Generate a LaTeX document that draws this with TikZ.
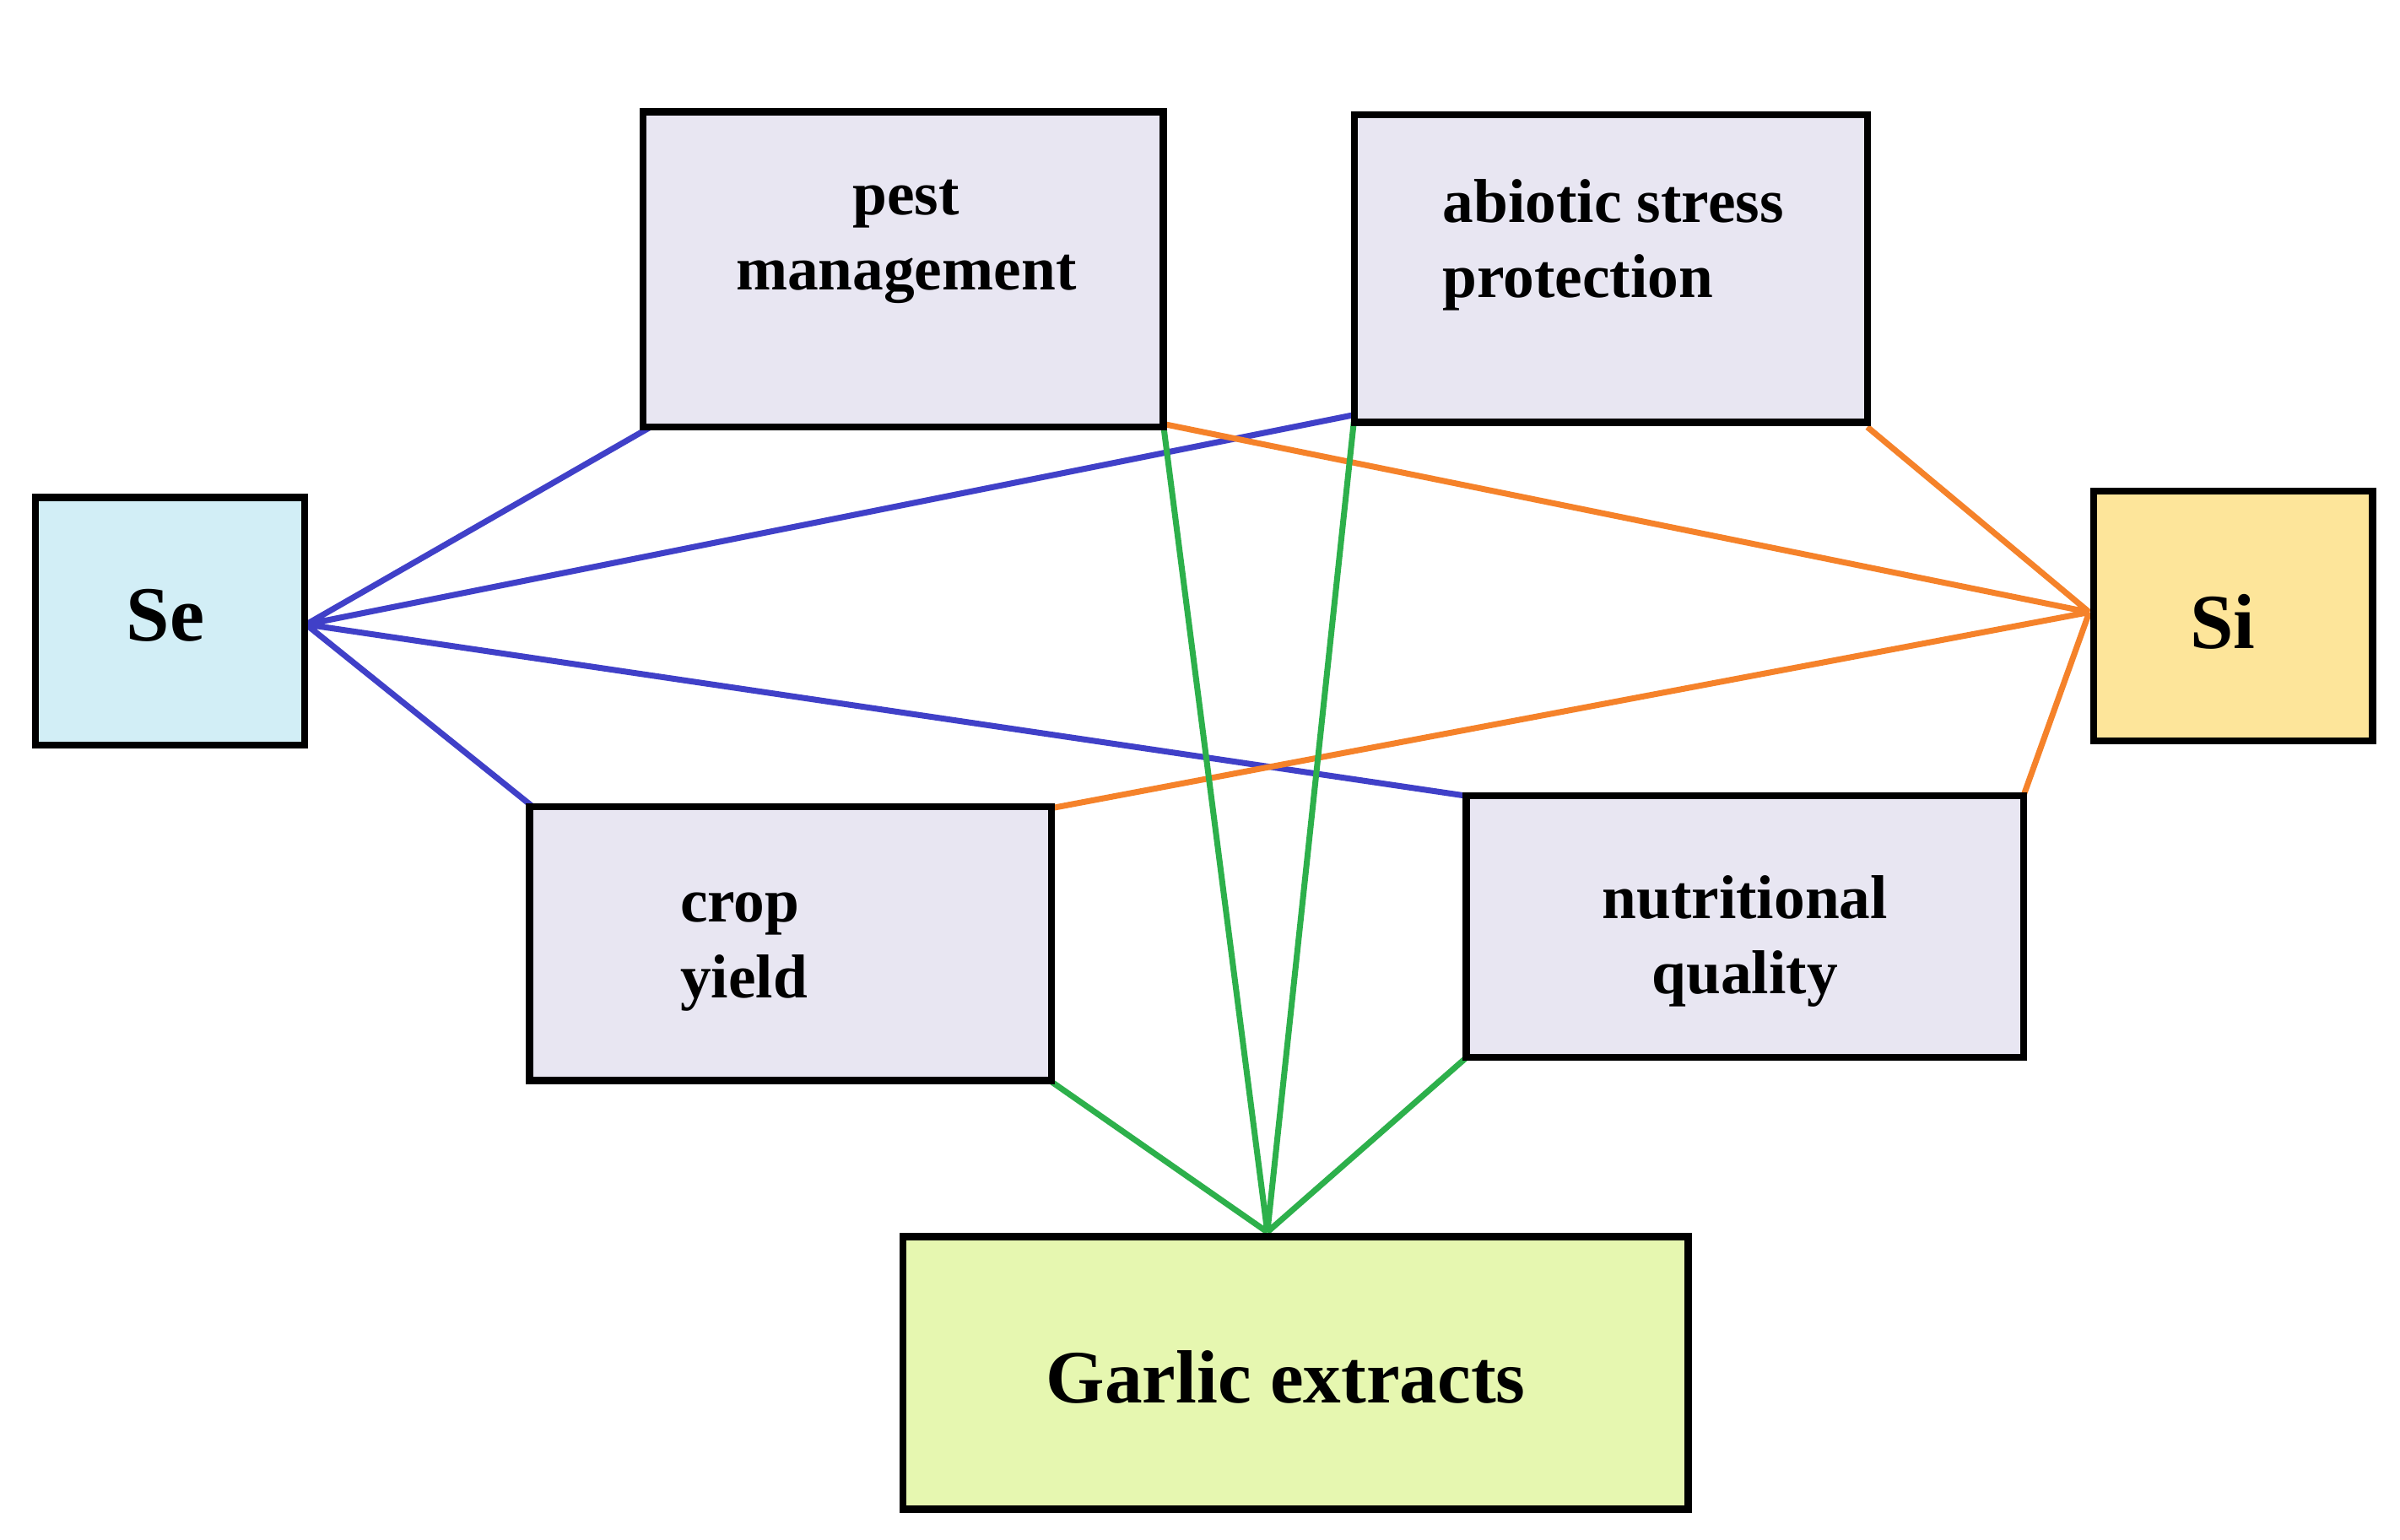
\documentclass[tikz,border=0pt]{standalone}
\usepackage{fontspec}
\setmainfont{Liberation Serif}
\begin{document}
\begin{tikzpicture}[x=0.01cm,y=-0.01cm,
 box/.style={draw=black,line width=1.3pt,fill=#1},
 lbl/.style={font=\bfseries\fontsize{11.5}{14}\selectfont,align=center},
 bl/.style={draw={rgb,255:red,64;green,64;blue,200},line width=1.1pt},
 og/.style={draw={rgb,255:red,245;green,130;blue,42},line width=1.1pt},
 gr/.style={draw={rgb,255:red,45;green,176;blue,75},line width=1.1pt}]
\definecolor{lav}{RGB}{232,230,242}
\definecolor{cse}{RGB}{210,238,246}
\definecolor{csi}{RGB}{253,229,154}
\definecolor{cga}{RGB}{230,247,176}
\useasboundingbox[fill=white] (0,0) rectangle (1568,1006);
% lines first
\coordinate (se) at (200,408);
\coordinate (si) at (1365,400);
\coordinate (ga) at (828,805);
\coordinate (pbl) at (425,279);
\coordinate (pbr) at (760,277);
\coordinate (abl) at (885,271);
\coordinate (abr) at (1220,279);
\coordinate (ctl) at (348,527);
\coordinate (ctr) at (687,528);
\coordinate (cbr) at (683,704);
\coordinate (ntl) at (958,520);
\coordinate (ntr) at (1322,520);
\coordinate (nbl) at (958,691);
\draw[bl] (se)--(pbl) (se)--(abl) (se)--(ctl) (se)--(ntl);
\draw[og] (si)--(pbr) (si)--(abr) (si)--(ctr) (si)--(ntr);
\draw[gr] (ga)--(pbr) (ga)--(abl) (ga)--(cbr) (ga)--(nbl);
% boxes
\draw[box=lav] (420,73) rectangle (760,279);
\draw[box=lav] (885,75) rectangle (1220,276);
\draw[box=cse] (23,325) rectangle (199,487);
\draw[box=csi] (1368,321) rectangle (1550,484);
\draw[box=lav] (346,527) rectangle (687,706);
\draw[box=lav] (958,520) rectangle (1322,691);
\draw[box=cga] (590,808) rectangle (1103,986);
\node[lbl] (tp) at (592,158) {pest\\management};
\node[lbl,align=left] (ta) at (1054,160) {abiotic stress\\ protection};
\node[lbl,font=\bfseries\fontsize{14.5}{17}\selectfont] (tse) at (108,402) {Se};
\node[lbl,font=\bfseries\fontsize{14.5}{17}\selectfont] (tsi) at (1452,406) {Si};
\node[lbl,align=left] (tc) at (486,622) {crop\\yield};
\node[lbl] (tn) at (1140,615) {nutritional\\quality};
\node[lbl,font=\bfseries\fontsize{14}{17}\selectfont] (tg) at (840,900) {Garlic extracts};
\end{tikzpicture}
\end{document}
